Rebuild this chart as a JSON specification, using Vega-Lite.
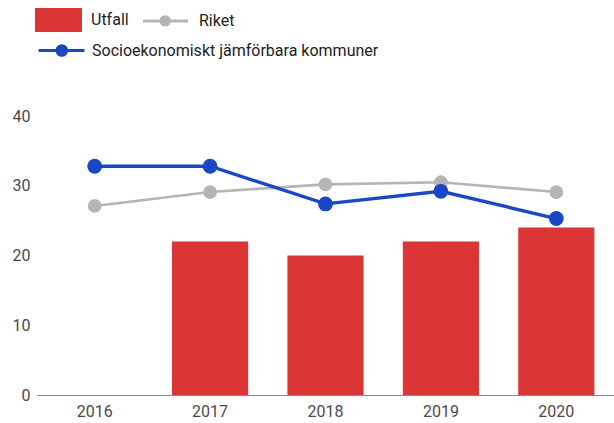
{
  "$schema": "https://vega.github.io/schema/vega-lite/v6.json",
  "width": 577,
  "height": 279,
  "autosize": {"type": "none"},
  "padding": {"left": 37, "top": 116, "right": 0, "bottom": 28},
  "background": "white",
  "config": {
    "view": {"stroke": null},
    "font": "Roboto",
    "axis": {"labelFont": "Roboto", "labelFontSize": 16, "labelColor": "#4a4a4a", "title": null, "grid": false, "ticks": false},
    "legend": {"labelFont": "Roboto", "labelFontSize": 16, "labelColor": "#222222", "labelLimit": 500, "title": null, "symbolSize": 400, "labelOffset": 37, "columnPadding": 8, "symbolOpacity": 1}
  },
  "data": {
    "values": [
      {"year": "2017", "series": "Utfall", "value": 22},
      {"year": "2018", "series": "Utfall", "value": 20},
      {"year": "2019", "series": "Utfall", "value": 22},
      {"year": "2020", "series": "Utfall", "value": 24},
      {"year": "2016", "series": "Riket", "value": 27.1},
      {"year": "2017", "series": "Riket", "value": 29.1},
      {"year": "2018", "series": "Riket", "value": 30.2},
      {"year": "2019", "series": "Riket", "value": 30.5},
      {"year": "2020", "series": "Riket", "value": 29.1},
      {"year": "2016", "series": "Socioekonomiskt jämförbara kommuner", "value": 32.8},
      {"year": "2017", "series": "Socioekonomiskt jämförbara kommuner", "value": 32.8},
      {"year": "2018", "series": "Socioekonomiskt jämförbara kommuner", "value": 27.4},
      {"year": "2019", "series": "Socioekonomiskt jämförbara kommuner", "value": 29.2},
      {"year": "2020", "series": "Socioekonomiskt jämförbara kommuner", "value": 25.3}
    ]
  },
  "encoding": {
    "x": {
      "field": "year", "type": "ordinal",
      "scale": {"domain": ["2016", "2017", "2018", "2019", "2020"], "paddingInner": 0.34, "paddingOuter": 0.17},
      "axis": {"labelAngle": 0, "domain": true, "domainColor": "#8a8a8a", "domainWidth": 1, "labelPadding": 8}
    },
    "y": {
      "field": "value", "type": "quantitative",
      "scale": {"domain": [0, 40], "nice": false, "zero": true},
      "axis": {"values": [0, 10, 20, 30, 40], "domain": false, "labelPadding": 7}
    }
  },
  "layer": [
    {
      "transform": [{"filter": "datum.series === 'Utfall'"}],
      "mark": {"type": "bar", "opacity": 1},
      "encoding": {
        "color": {
          "field": "series", "type": "nominal",
          "scale": {"domain": ["Utfall", "Riket"], "range": ["#dc3535", "#b5b5b5"]},
          "legend": {
            "orient": "none", "legendX": 0, "legendY": -104, "direction": "horizontal", "labelOffset": 38,
            "encode": {
              "symbols": {
                "update": {
                  "shape": {"signal": "datum.value === 'Utfall' ? 'M-1,-1.2L3.7,-1.2L3.7,1.2L-1,1.2Z' : 'M-1,0L3.5,0M0.8,0A0.42,0.42 0 1,0 1.64,0A0.42,0.42 0 1,0 0.8,0'"},
                  "fill": {"signal": "scale('color', datum.value)"},
                  "stroke": {"signal": "scale('color', datum.value)"},
                  "strokeWidth": {"signal": "datum.value === 'Utfall' ? 0 : 3"},
                  "opacity": {"value": 1}
                }
              }
            }
          }
        }
      }
    },
    {
      "transform": [{"filter": "datum.series === 'Riket'"}],
      "mark": {"type": "line", "strokeWidth": 2.7, "point": {"filled": true, "size": 190, "opacity": 1}},
      "encoding": {
        "color": {"field": "series", "type": "nominal"}
      }
    },
    {
      "transform": [{"filter": "datum.series === 'Socioekonomiskt jämförbara kommuner'"}],
      "mark": {"type": "line", "strokeWidth": 3.4},
      "encoding": {
        "stroke": {
          "field": "series", "type": "nominal",
          "scale": {"domain": ["Socioekonomiskt jämförbara kommuner"], "range": ["#1a48c4"]},
          "legend": {
            "orient": "none", "legendX": 0, "legendY": -77, "direction": "horizontal", "labelOffset": 32,
            "encode": {
              "symbols": {
                "update": {
                  "shape": {"value": "M-1,0L3.6,0M0.85,0A0.48,0.48 0 1,0 1.81,0A0.48,0.48 0 1,0 0.85,0"},
                  "fill": {"value": "#1a48c4"},
                  "stroke": {"value": "#1a48c4"},
                  "strokeWidth": {"value": 3},
                  "opacity": {"value": 1}
                }
              }
            }
          }
        }
      }
    },
    {
      "transform": [{"filter": "datum.series === 'Socioekonomiskt jämförbara kommuner'"}],
      "mark": {"type": "point", "filled": true, "size": 220, "opacity": 1, "color": "#1a48c4"}
    }
  ]
}
